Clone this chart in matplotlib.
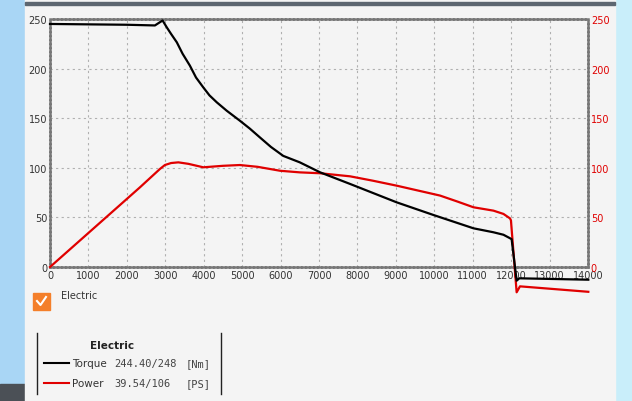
"""Electric motor torque / power curve panel."""

import matplotlib.pyplot as plt
from matplotlib.lines import Line2D
from matplotlib.patches import Rectangle

W, H = 632, 402

RPM_TORQUE = [0, 1000, 2000, 2730, 2930, 3040, 3150, 3300, 3450, 3640, 3800, 3990,
              4150, 4340, 4600, 4940, 5200, 5460, 5750, 6070, 6500, 7030, 7810, 9020,
              9980, 11020, 11540, 11800, 11970, 12013, 12143, 12213, 14008]
TORQUE = [245, 244.6, 244.2, 243.5, 248.5, 241.5, 235, 226.5, 215, 203, 191, 181,
          173, 166, 157.5, 147.5, 139.5, 130.7, 121, 112, 105.5, 95.4, 83.7, 65.2,
          52.4, 39, 35, 32.5, 29, 28, -13.8, -11.4, -12.8]

RPM_POWER = [0, 2340, 2860, 2990, 3150, 3340, 3600, 3990, 4500, 4940, 5400, 5990,
             6500, 7030, 7810, 8400, 9020, 10150, 10600, 11020, 11540, 11800, 11970,
             11995, 12143, 12230, 14008]
POWER = [0, 80.3, 98.8, 102.8, 104.8, 105.5, 104, 100.5, 102, 102.8, 101, 97,
         95.4, 94.5, 91.4, 87, 82, 72, 66, 60.2, 56.8, 53.5, 49, 47, -25.5, -19.5, -25]

X_TICKS = list(range(0, 14001, 1000))
Y_TICKS = [0, 50, 100, 150, 200, 250]

fig = plt.figure(figsize=(W / 100, H / 100), dpi=100)
fig.patch.set_facecolor("#a9d6f5")


def px_rect(x0, y0, x1, y1, zorder=-2, **kw):
    fig.patches.append(Rectangle((x0 / W, 1 - y1 / H), (x1 - x0) / W, (y1 - y0) / H,
                                 transform=fig.transFigure, zorder=zorder, **kw))


px_rect(605, 0, 632, 402, color="#c9eefa", zorder=-3)
px_rect(0, 385, 25, 402, color="#4b5056", zorder=-3)
px_rect(25, 0, 615, 402, color="#f4f4f4", zorder=-2)
px_rect(25, 3, 615, 6, color="#5d6670", zorder=-1)

ax = fig.add_axes([50 / W, 1 - 268 / H, 538 / W, 248 / H])
ax.set_facecolor("#f4f4f4")
ax.plot(RPM_TORQUE, TORQUE, color="black", lw=1.6, clip_on=False, zorder=4)
ax.plot(RPM_POWER, POWER, color="#e00000", lw=1.6, clip_on=False, zorder=3)
ax.set_xlim(0, 14000)
ax.set_ylim(0, 250)
ax.set_xticks(X_TICKS)
ax.set_yticks(Y_TICKS)
ax.grid(True, color="#b0b0b0", ls=(0, (2, 3)), lw=0.8)
ax.tick_params(length=0, labelsize=7, colors="#333333", pad=2)
for sp in ax.spines.values():
    sp.set_color("#777777")
    sp.set_linewidth(1.8)
    sp.set_linestyle((0, (1, 0.6)))

ax2 = ax.twinx()
ax2.set_ylim(0, 250)
ax2.set_yticks(Y_TICKS)
ax2.tick_params(length=0, labelsize=7, colors="#e00000", pad=2)
for sp in ax2.spines.values():
    sp.set_visible(False)

# checkbox
px_rect(33, 294, 50, 311, color="#f47f2a", zorder=1)
fig.lines.append(Line2D([37 / W, 40.5 / W, 46 / W], [1 - 302 / H, 1 - 306 / H, 1 - 298 / H],
                        transform=fig.transFigure, color="white", lw=1.5, zorder=3))
fig.text(61 / W, 1 - 296 / H, "Electric", fontsize=7, color="#333333", va="center")

# legend box
for x in (37, 221):
    fig.lines.append(Line2D([x / W, x / W], [1 - 334 / H, 1 - 395 / H],
                            transform=fig.transFigure, color="#222222", lw=1))
fig.text(112 / W, 1 - 346 / H, "Electric", fontsize=7.5, fontweight="bold",
         color="#222222", ha="center", va="center")
for y, col, name, val, unit in ((364, "black", "Torque", "244.40/248", "[Nm]"),
                                (384, "#e00000", "Power", "39.54/106", "[PS]")):
    fig.lines.append(Line2D([44 / W, 69 / W], [1 - y / H, 1 - y / H],
                            transform=fig.transFigure, color=col, lw=1.5))
    fig.text(72 / W, 1 - y / H, name, fontsize=7.5, color="#333333", va="center")
    fig.text(114 / W, 1 - y / H, val, fontsize=7.5, family="DejaVu Sans Mono",
             color="#444444", va="center")
    fig.text(186 / W, 1 - y / H, unit, fontsize=7.5, family="DejaVu Sans Mono",
             color="#444444", va="center")

fig.savefig("out.png", dpi=100)
